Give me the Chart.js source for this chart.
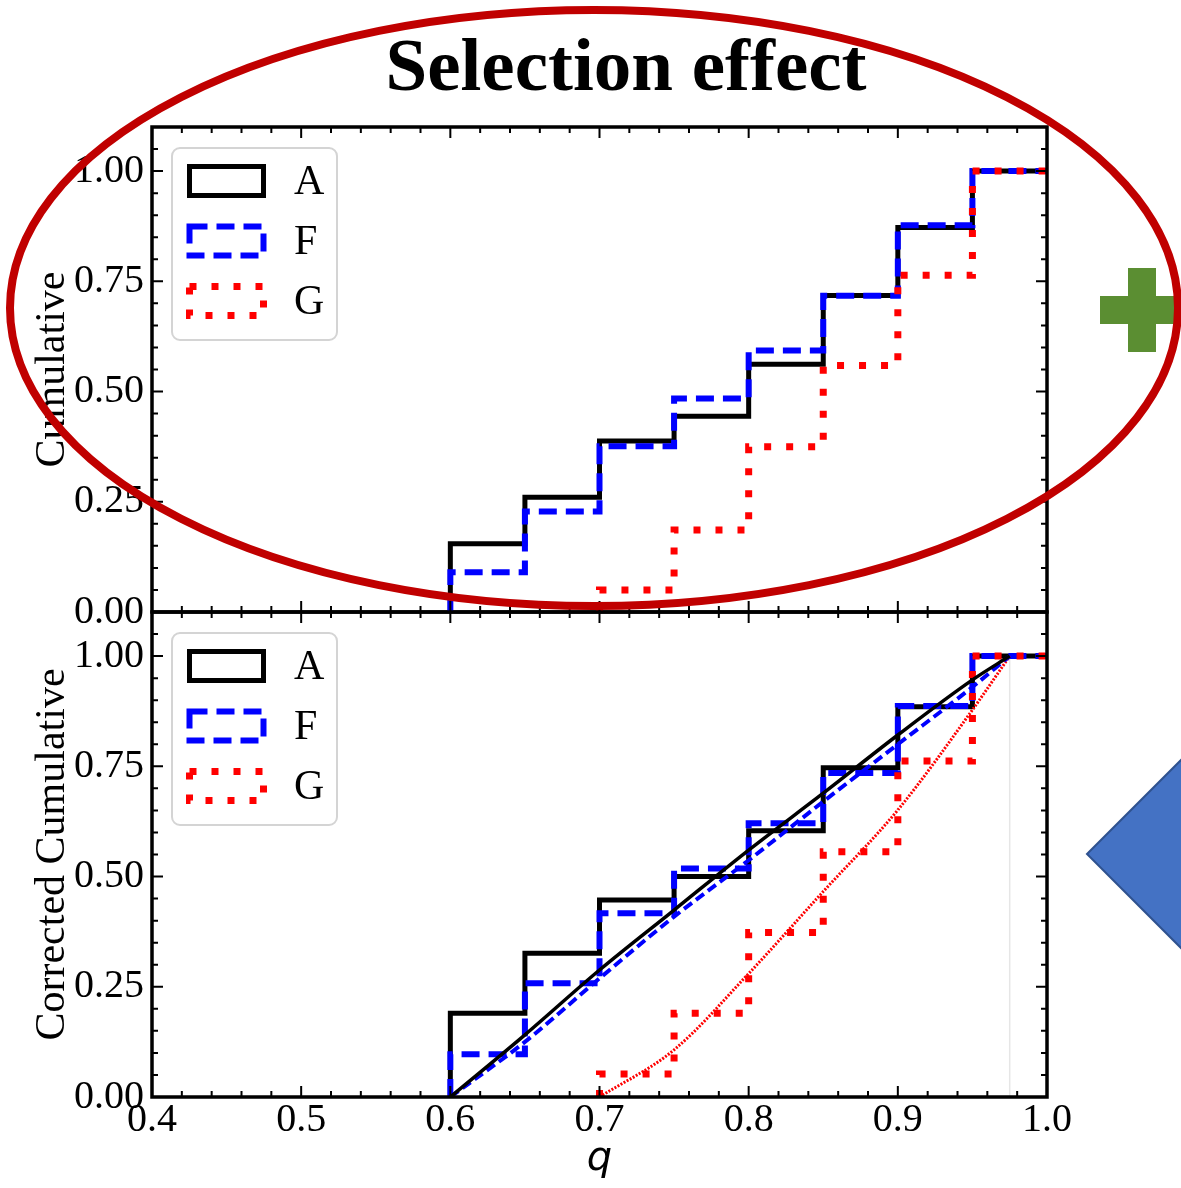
<!DOCTYPE html>
<html>
<head>
<meta charset="utf-8">
<script src="https://cdn.jsdelivr.net/npm/chart.js@4.4.1/dist/chart.umd.min.js"></script>
<style>
  html, body { margin: 0; padding: 0; background: #fff; }
  #wrap { position: relative; width: 1181px; height: 1188px; overflow: hidden; }
  #topBox { position: absolute; left: 0; top: 0; width: 1181px; height: 640px; z-index: 2; }
  #bottomBox { position: absolute; left: 0; top: 600px; width: 1181px; height: 588px; z-index: 1; }
</style>
</head>
<body>
<div id="wrap">
  <div id="bottomBox"><canvas id="bottomChart"></canvas></div>
  <div id="topBox"><canvas id="topChart"></canvas></div>
</div>
<script>
// bin edges in q (A and F start at 0.6, G at 0.7)
const binEdges = [0.60, 0.65, 0.70, 0.75, 0.80, 0.85, 0.90, 0.95, 1.00];
const binEdgesG = [0.70, 0.75, 0.80, 0.85, 0.90, 0.95, 1.00];

// top panel: cumulative fraction reached in each bin
const cumA = [0.155, 0.260, 0.388, 0.444, 0.562, 0.718, 0.872, 1.000];
const cumF = [0.090, 0.228, 0.376, 0.484, 0.593, 0.717, 0.877, 1.000];
const cumG = [0.050, 0.186, 0.375, 0.559, 0.764, 1.000];

// bottom panel: corrected cumulative
const corrA = [0.190, 0.326, 0.447, 0.500, 0.604, 0.747, 0.885, 1.000];
const corrF = [0.097, 0.258, 0.417, 0.518, 0.621, 0.735, 0.887, 1.000];
const corrG = [0.052, 0.190, 0.373, 0.556, 0.762, 1.000];

// fitted curves in the bottom panel
const fitQ  = [0.600, 0.650, 0.700, 0.750, 0.800, 0.850, 0.900, 0.950, 0.975];
const fitA  = [0.000, 0.141, 0.288, 0.424, 0.560, 0.689, 0.821, 0.946, 1.000];
const fitF  = [0.000, 0.125, 0.269, 0.409, 0.537, 0.670, 0.800, 0.930, 1.000];
const fitQG = [0.700, 0.750, 0.800, 0.850, 0.900, 0.950, 0.975];
const fitG  = [0.000, 0.107, 0.280, 0.466, 0.651, 0.878, 1.000];
const cutoffQ = 0.975;

const xTicks = [0.4, 0.5, 0.6, 0.7, 0.8, 0.9, 1.0];
const yTicks = [0, 0.25, 0.5, 0.75, 1.0];
const seriesLabels = ['A', 'F', 'G'];

const SERIF = 'Liberation Serif';

// cumulative step outline: up from 0 at the first edge, then one level per bin
function stepPoints(edges, levels) {
  const pts = [{x: edges[0], y: 0}];
  levels.forEach((v, i) => pts.push({x: edges[i], y: v}));
  pts.push({x: edges[edges.length - 1], y: levels[levels.length - 1]});
  return pts;
}

function curve(qs, ys) {
  return qs.map((q, i) => ({x: q, y: ys[i]}));
}

const styleA = {borderColor: '#000000', borderWidth: 5, borderDash: []};
const styleF = {borderColor: '#0000ff', borderWidth: 6, borderDash: [18, 9]};
const styleG = {borderColor: '#ff0000', borderWidth: 7, borderDash: [7, 15]};

function stepSet(label, data, style, order) {
  return Object.assign({
    label: label, data: data, stepped: 'before', fill: false,
    backgroundColor: 'transparent', pointRadius: 0, order: order,
    borderJoinStyle: 'miter', borderCapStyle: 'butt', inLegend: true
  }, style);
}

function fitSet(label, data, color, width, dash, order) {
  return {
    label: label, data: data, borderColor: color, borderWidth: width, borderDash: dash,
    fill: false, pointRadius: 0, cubicInterpolationMode: 'monotone', order: order, inLegend: false
  };
}

function yAxis(title) {
  return {
    type: 'linear', min: 0, max: 1.1,
    afterBuildTicks: s => { s.ticks = yTicks.map(v => ({value: v})); },
    afterFit: s => { s.width = 152; s.paddingTop = 0; s.paddingBottom = 0; },
    grid: {display: false, drawTicks: false},
    border: {display: false},
    ticks: {
      color: '#000', padding: 8, autoSkip: false,
      font: {family: SERIF, size: 40, lineHeight: 1.1},
      callback: v => v.toFixed(2)
    },
    title: {
      display: true, text: title, color: '#000',
      font: {family: SERIF, size: 42, lineHeight: 1.2},
      padding: {top: 28, bottom: 0}
    }
  };
}

// frame with inward major/minor ticks on all four sides, plus the boxed legend
const framePlugin = {
  id: 'frameLegend',
  afterDraw(chart) {
    const ctx = chart.ctx;
    const {left, right, top, bottom} = chart.chartArea;
    const xs = chart.scales.x, ys = chart.scales.y;
    ctx.save();
    ctx.strokeStyle = '#000';
    ctx.lineWidth = 2;
    ctx.beginPath();
    for (let i = 0; i <= 30; i++) {
      const px = xs.getPixelForValue(0.4 + i * 0.02);
      const len = i % 5 === 0 ? 11 : 6;
      ctx.moveTo(px, bottom); ctx.lineTo(px, bottom - len);
      ctx.moveTo(px, top); ctx.lineTo(px, top + len);
    }
    for (let i = 0; i <= 22; i++) {
      const py = ys.getPixelForValue(i * 0.05);
      const len = i % 5 === 0 ? 11 : 6;
      ctx.moveTo(left, py); ctx.lineTo(left + len, py);
      ctx.moveTo(right, py); ctx.lineTo(right - len, py);
    }
    ctx.stroke();
    ctx.lineWidth = 3.5;
    ctx.strokeRect(left, top, right - left, bottom - top);

    // legend
    ctx.beginPath();
    ctx.roundRect(left + 20, top + 21, 165, 192, 8);
    ctx.fillStyle = 'rgba(255,255,255,0.9)';
    ctx.fill();
    ctx.lineWidth = 2;
    ctx.strokeStyle = '#d4d4d4';
    ctx.stroke();
    const items = chart.data.datasets.filter(d => d.inLegend);
    items.forEach((ds, i) => {
      const cy = top + 54 + i * 60;
      ctx.strokeStyle = ds.borderColor;
      ctx.lineWidth = ds.borderWidth;
      ctx.setLineDash(ds.borderDash || []);
      ctx.lineJoin = 'miter';
      ctx.strokeRect(left + 37.5, cy - 14.5, 74, 29);
      ctx.setLineDash([]);
      ctx.fillStyle = '#000';
      ctx.font = '42px "' + SERIF + '"';
      ctx.textAlign = 'left';
      ctx.textBaseline = 'middle';
      ctx.fillText(ds.label, left + 142, cy + 2);
    });
    ctx.restore();
  }
};

// slide decorations: heading, red ellipse and green plus over the top panel
const topDecor = {
  id: 'topDecor',
  afterDraw(chart) {
    const ctx = chart.ctx;
    ctx.save();
    ctx.fillStyle = '#000';
    ctx.font = 'bold 75px "' + SERIF + '"';
    ctx.textAlign = 'center';
    ctx.textBaseline = 'middle';
    ctx.fillText('Selection effect', 626, 71);

    ctx.fillStyle = '#5B8E32';
    ctx.fillRect(1128, 268, 28, 84);
    ctx.fillRect(1100, 296, 84, 28);

    ctx.beginPath();
    ctx.ellipse(594, 308, 584, 298, 0, 0, Math.PI * 2);
    ctx.strokeStyle = '#C00000';
    ctx.lineWidth = 8;
    ctx.stroke();
    ctx.restore();
  }
};

// blue diamond at the right of the bottom panel
const bottomDecor = {
  id: 'bottomDecor',
  afterDraw(chart) {
    const ctx = chart.ctx;
    ctx.save();
    ctx.beginPath();
    ctx.moveTo(1087, 254);
    ctx.lineTo(1181, 160);
    ctx.lineTo(1275, 254);
    ctx.lineTo(1181, 348);
    ctx.closePath();
    ctx.fillStyle = '#4472C4';
    ctx.fill();
    ctx.strokeStyle = '#2F528F';
    ctx.lineWidth = 2;
    ctx.stroke();
    ctx.restore();
  }
};

const commonOptions = {
  responsive: true,
  maintainAspectRatio: false,
  animation: false,
  events: [],
  plugins: {legend: {display: false}, tooltip: {enabled: false}, title: {display: false}}
};

new Chart(document.getElementById('topChart'), {
  type: 'line',
  data: {
    datasets: [
      stepSet(seriesLabels[0], stepPoints(binEdges, cumA), styleA, 3),
      stepSet(seriesLabels[1], stepPoints(binEdges, cumF), styleF, 2),
      stepSet(seriesLabels[2], stepPoints(binEdgesG, cumG), styleG, 1)
    ]
  },
  options: Object.assign({}, commonOptions, {
    layout: {padding: {left: 0, top: 127, right: 134, bottom: 28}},
    scales: {
      x: {type: 'linear', min: 0.4, max: 1.0, display: false},
      y: yAxis('Cumulative')
    }
  }),
  plugins: [framePlugin, topDecor]
});

new Chart(document.getElementById('bottomChart'), {
  type: 'line',
  data: {
    datasets: [
      stepSet(seriesLabels[0], stepPoints(binEdges, corrA), styleA, 3),
      stepSet(seriesLabels[1], stepPoints(binEdges, corrF), styleF, 2),
      stepSet(seriesLabels[2], stepPoints(binEdgesG, corrG), styleG, 1),
      fitSet('A fit', curve(fitQ, fitA), '#000000', 3.5, [], 0),
      fitSet('F fit', curve(fitQ, fitF), '#0000ff', 4, [10, 5], 0),
      fitSet('G fit', curve(fitQG, fitG), '#ff0000', 3, [2, 1.5], 0),
      fitSet('cutoff', [{x: cutoffQ, y: 0}, {x: cutoffQ, y: 1.0}], '#e6e6e6', 1.5, [], 10)
    ]
  },
  options: Object.assign({}, commonOptions, {
    layout: {padding: {left: 0, top: 12, right: 134, bottom: 0}},
    scales: {
      x: {
        type: 'linear', min: 0.4, max: 1.0,
        afterBuildTicks: s => { s.ticks = xTicks.map(v => ({value: v})); },
        afterFit: s => { s.height = 91; s.paddingLeft = 0; s.paddingRight = 0; },
        grid: {display: false, drawTicks: false},
        border: {display: false},
        ticks: {
          color: '#000', padding: 1, maxRotation: 0, autoSkip: false,
          font: {family: SERIF, size: 40, lineHeight: 1.1},
          callback: v => v.toFixed(1)
        },
        title: {
          display: true, text: 'q', color: '#000',
          font: {family: 'DejaVu Sans', style: 'italic', size: 40, lineHeight: 1.2},
          padding: {top: 0, bottom: 4}
        }
      },
      y: yAxis('Corrected Cumulative')
    }
  }),
  plugins: [framePlugin, bottomDecor]
});
</script>
</body>
</html>
